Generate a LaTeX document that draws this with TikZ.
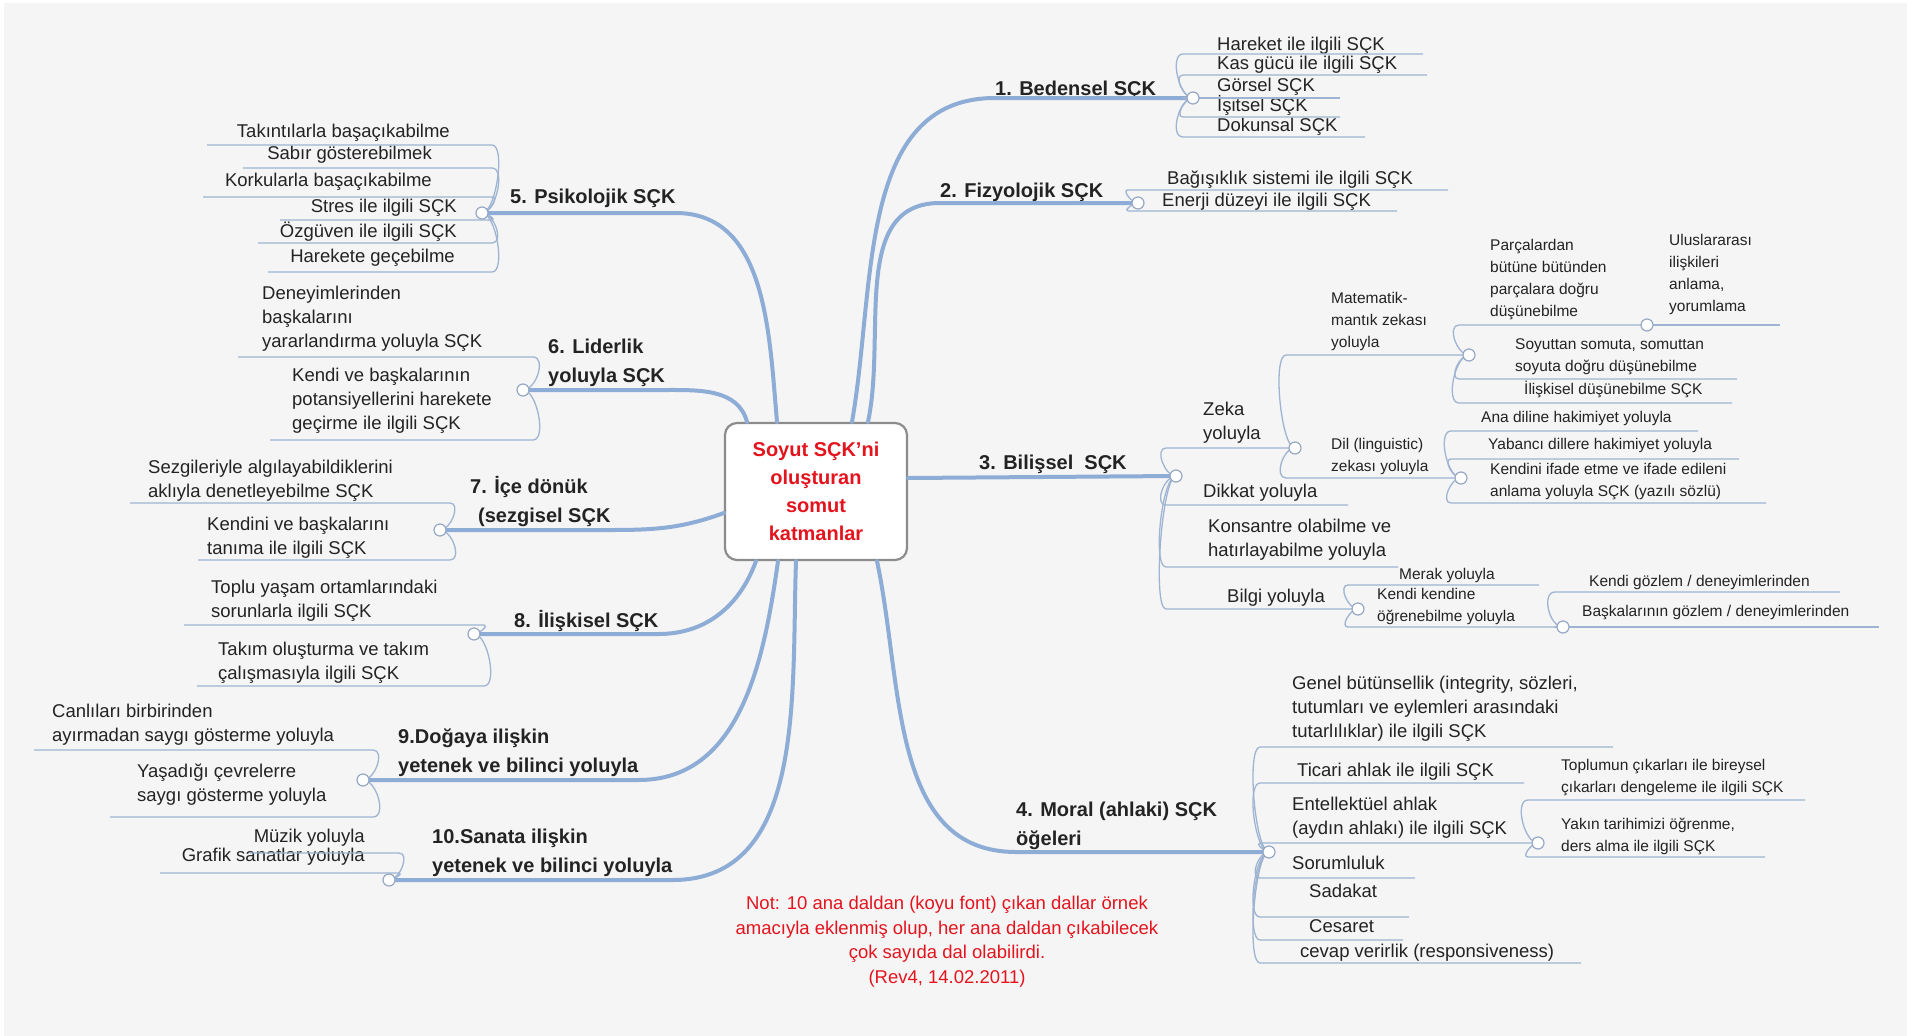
\documentclass[tikz,border=0pt]{standalone}
\usepackage{fontspec}
\setmainfont{Liberation Sans}
\usepackage{tikz}
\usetikzlibrary{positioning,calc}

\definecolor{bgcol}{RGB}{245,245,245}
\definecolor{brcol}{RGB}{141,172,214}
\definecolor{subcol}{RGB}{158,180,210}
\definecolor{dotcol}{RGB}{150,168,196}
\definecolor{hubcol}{RGB}{140,140,140}
\definecolor{txtcol}{RGB}{35,35,35}
\definecolor{notered}{RGB}{228,20,30}

\begin{document}
\begin{tikzpicture}[x=1pt, y=1pt,
  br/.style={draw=brcol, line width=4pt, line cap=round},
  sub/.style={draw=subcol, line width=1.3pt},
  fork r/.style={out=180, in=180, max distance=14pt},
  fork l/.style={out=0, in=0, max distance=14pt},
  dot/.style={circle, draw=dotcol, fill=white, line width=1.2pt, minimum size=12pt, inner sep=0pt},
  hub/.style={draw=hubcol, line width=2.2pt, fill=white, rounded corners=12pt,
    minimum width=182pt, minimum height=137pt, align=center, text=notered,
    font=\fontsize{20}{28}\selectfont\bfseries},
  mainlbl/.style={anchor=south west, inner sep=0pt, align=left, text=txtcol,
    font=\fontsize{20}{29}\selectfont\bfseries, execute at end node=\strut},
  lbl/.style={anchor=south west, inner sep=0pt, align=left, text=txtcol,
    font=\fontsize{18.5}{24}\selectfont, execute at end node=\strut},
  lblr/.style={lbl, anchor=south east, align=right},
  lvl3/.style={font=\fontsize{15.5}{22}\selectfont},
  note/.style={align=center, inner sep=0pt, text=notered, font=\fontsize{18.5}{24.5}\selectfont}]

% background
\useasboundingbox (0,0) rectangle (1907,-1036);
\fill[white] (0,0) rectangle (1907,-1036);
\fill[bgcol] (4,-3) rectangle (1907,-1036);

% centre
\node[hub] (hub) at (816,-491.5) {Soyut SÇK'ni\\oluşturan\\somut\\katmanlar};

% main branch labels
\node[mainlbl] (b1) at (995,-104) {1. Bedensel SÇK};
\node[mainlbl] (b2) at (940,-206) {2. Fizyolojik SÇK};
\node[mainlbl] (b3) at (979,-478) {3. Bilişsel\ \ SÇK};
\node[mainlbl] (b4) at (1016,-854) {4. Moral (ahlaki) SÇK\\öğeleri};
\node[mainlbl] (b5) at (510,-212) {5. Psikolojik SÇK};
\node[mainlbl] (b6) at (548,-391) {6. Liderlik\\yoluyla SÇK};
\node[mainlbl] (b7) at (470,-531) {7. İçe dönük\\\hspace*{8pt}(sezgisel SÇK};
\node[mainlbl] (b8) at (514,-636) {8. İlişkisel SÇK};
\node[mainlbl] (b9) at (398,-781) {9.Doğaya ilişkin\\yetenek ve bilinci yoluyla};
\node[mainlbl] (b10) at (432,-881) {10.Sanata ilişkin\\yetenek ve bilinci yoluyla};

% fork points
\coordinate (c1) at (1193,-98);    \coordinate (s1) at (1183,-98);
\coordinate (c2) at (1138,-203);   \coordinate (s2) at (1128,-203);
\coordinate (c3) at (1176,-476);   \coordinate (s3) at (1166,-476);
\coordinate (c3a) at (1295,-448);  \coordinate (s3a) at (1286,-448);
\coordinate (c3a1) at (1469,-355); \coordinate (s3a1) at (1459,-355);
\coordinate (c3a1a) at (1647,-325);\coordinate (s3a1a) at (1640,-325);
\coordinate (c3a2) at (1461,-478); \coordinate (s3a2) at (1451,-478);
\coordinate (c3d) at (1358,-609);  \coordinate (s3d) at (1348,-609);
\coordinate (c3d2) at (1563,-627); \coordinate (s3d2) at (1555,-627);
\coordinate (c4) at (1269,-852);   \coordinate (s4) at (1260,-852);
\coordinate (c4c) at (1538,-843);  \coordinate (s4c) at (1528,-843);
\coordinate (c5) at (482,-213);    \coordinate (s5) at (492,-213);
\coordinate (c6) at (523,-390);    \coordinate (s6) at (533,-390);
\coordinate (c7) at (440,-530);    \coordinate (s7) at (450,-530);
\coordinate (c8) at (474,-634);    \coordinate (s8) at (484,-634);
\coordinate (c9) at (363,-780);    \coordinate (s9) at (373,-780);
\coordinate (c10) at (389,-880);   \coordinate (s10) at (399,-880);

% main branches
\draw[br] ([xshift=36pt]hub.north) to[out=80,in=180] (c1 -| b1.west) -- (c1);
\draw[br] ([xshift=52pt]hub.north) to[out=78,in=180] (c2 -| b2.west) -- (c2);
\draw[br] ([yshift=13.5pt]hub.east) -- (c3);
\draw[br] ([xshift=61pt]hub.south) to[out=-78,in=180] (c4 -| b4.west) -- (c4);
\draw[br] ([xshift=-39pt]hub.north) to[out=95,in=0] (c5 -| b5.east) -- (c5);
\draw[br] ([xshift=-69pt]hub.north) to[out=105,in=0] (c6 -| b6.east) -- (c6);
\draw[br] ([yshift=-21.5pt]hub.west) to[out=200,in=0] (c7 -| b7.east) -- (c7);
\draw[br] ([xshift=-60pt]hub.south) to[out=250,in=0] (c8 -| b8.east) -- (c8);
\draw[br] ([xshift=-38pt]hub.south) to[out=262,in=0] (c9 -| b9.east) -- (c9);
\draw[br] ([xshift=-20pt]hub.south) to[out=268,in=0] (c10 -| b10.east) -- (c10);

% 1. Bedensel
\node[lbl] (t1a) at (1217,-58) {Hareket ile ilgili SÇK};
\node[lbl] (t1b) at (1217,-77) {Kas gücü ile ilgili SÇK};
\node[lbl] (t1c) at (1217,-99) {Görsel SÇK};
\node[lbl] (t1d) at (1217,-119) {İşitsel SÇK};
\node[lbl] (t1e) at (1217,-139) {Dokunsal SÇK};
\coordinate (e1a) at (1423,-54);
\coordinate (e1b) at (1427,-75);
\coordinate (e1c) at (1340,-98);
\coordinate (e1d) at (1340,-117);
\coordinate (e1e) at (1365,-137);
\draw[sub] (c1) to[fork r] (s1 |- e1a) -- (e1a);
\draw[sub] (c1) to[fork r] (s1 |- e1b) -- (e1b);
\draw[sub] (c1) to[fork r] (s1 |- e1c) -- (e1c);
\draw[sub] (c1) to[fork r] (s1 |- e1d) -- (e1d);
\draw[sub] (c1) to[fork r] (s1 |- e1e) -- (e1e);

% 2. Fizyolojik
\node[lbl] (t2a) at (1167,-192) {Bağışıklık sistemi ile ilgili SÇK};
\node[lbl] (t2b) at (1162,-214) {Enerji düzeyi ile ilgili SÇK};
\coordinate (e2a) at (1448,-190);
\coordinate (e2b) at (1397,-211);
\draw[sub] (c2) to[fork r] (s2 |- e2a) -- (e2a);
\draw[sub] (c2) to[fork r] (s2 |- e2b) -- (e2b);

% 3. Bilissel
\node[lbl] (t3a) at (1203,-447) {Zeka\\yoluyla};
\node[lbl] (t3b) at (1203,-505) {Dikkat yoluyla};
\node[lbl] (t3c) at (1208,-564) {Konsantre olabilme ve\\hatırlayabilme yoluyla};
\node[lbl] (t3d) at (1227,-610) {Bilgi yoluyla};
\coordinate (e3b) at (1348,-505);
\coordinate (e3c) at (1398,-567);
\draw[sub] (c3) to[fork r] (s3 |- c3a) -- (c3a);
\draw[sub] (c3) to[fork r] (s3 |- e3b) -- (e3b);
\draw[sub] (c3) to[fork r] (s3 |- e3c) -- (e3c);
\draw[sub] (c3) to[fork r] (s3 |- c3d) -- (c3d);

% zeka
\node[lbl, lvl3] (t3a1) at (1331,-354) {Matematik-\\mantık zekası\\yoluyla};
\node[lbl, lvl3] (t3a2) at (1331,-478) {Dil (linguistic)\\zekası yoluyla};
\draw[sub] (c3a) to[fork r] (s3a |- c3a1) -- (c3a1);
\draw[sub] (c3a) to[fork r] (s3a |- c3a2) -- (c3a2);

\node[lbl, lvl3] (t3a1a) at (1490,-323) {Parçalardan\\bütüne bütünden\\parçalara doğru\\düşünebilme};
\node[lbl, lvl3] (t3a1b) at (1515,-378) {Soyuttan somuta, somuttan\\soyuta doğru düşünebilme};
\node[lbl, lvl3] (t3a1c) at (1524,-401) {İlişkisel düşünebilme SÇK};
\coordinate (e3a1b) at (1737,-379);
\coordinate (e3a1c) at (1732,-403);
\draw[sub] (c3a1) to[fork r] (s3a1 |- c3a1a) -- (c3a1a);
\draw[sub] (c3a1) to[fork r] (s3a1 |- e3a1b) -- (e3a1b);
\draw[sub] (c3a1) to[fork r] (s3a1 |- e3a1c) -- (e3a1c);

\node[lbl, lvl3] (t3a1a1) at (1669,-318) {Uluslararası\\ilişkileri\\anlama,\\yorumlama};
\coordinate (e3a1a1) at (1780,-325);
\draw[sub] (c3a1a) -- (e3a1a1);

\node[lbl, lvl3] (t3a2a) at (1481,-429) {Ana diline hakimiyet yoluyla};
\node[lbl, lvl3] (t3a2b) at (1488,-456) {Yabancı dillere hakimiyet yoluyla};
\node[lbl, lvl3] (t3a2c) at (1490,-503) {Kendini ifade etme ve ifade edileni\\anlama yoluyla SÇK (yazılı sözlü)};
\coordinate (e3a2a) at (1698,-431);
\coordinate (e3a2b) at (1739,-459);
\coordinate (e3a2c) at (1766,-503);
\draw[sub] (c3a2) to[fork r] (s3a2 |- e3a2a) -- (e3a2a);
\draw[sub] (c3a2) to[fork r] (s3a2 |- e3a2b) -- (e3a2b);
\draw[sub] (c3a2) to[fork r] (s3a2 |- e3a2c) -- (e3a2c);

% bilgi
\node[lbl, lvl3] (t3d1) at (1399,-586) {Merak yoluyla};
\node[lbl, lvl3] (t3d2) at (1377,-628) {Kendi kendine\\öğrenebilme yoluyla};
\coordinate (e3d1) at (1539,-585);
\draw[sub] (c3d) to[fork r] (s3d |- e3d1) -- (e3d1);
\draw[sub] (c3d) to[fork r] (s3d |- c3d2) -- (c3d2);

\node[lbl, lvl3] (t3d2a) at (1589,-593) {Kendi gözlem / deneyimlerinden};
\node[lbl, lvl3] (t3d2b) at (1582,-623) {Başkalarının gözlem / deneyimlerinden};
\coordinate (e3d2a) at (1840,-592);
\coordinate (e3d2b) at (1879,-627);
\draw[sub] (c3d2) to[fork r] (s3d2 |- e3d2a) -- (e3d2a);
\draw[sub] (c3d2) to[fork r] (s3d2 |- e3d2b) -- (e3d2b);

% 4. Moral
\node[lbl] (t4a) at (1292,-745) {Genel bütünsellik (integrity, sözleri,\\tutumları ve eylemleri arasındaki\\tutarlılıklar) ile ilgili SÇK};
\node[lbl] (t4b) at (1297,-784) {Ticari ahlak ile ilgili SÇK};
\node[lbl] (t4c) at (1292,-842) {Entellektüel ahlak\\(aydın ahlakı) ile ilgili SÇK};
\node[lbl] (t4d) at (1292,-877) {Sorumluluk};
\node[lbl] (t4e) at (1309,-905) {Sadakat};
\node[lbl] (t4f) at (1309,-940) {Cesaret};
\node[lbl] (t4g) at (1300,-965) {cevap verirlik (responsiveness)};
\coordinate (e4a) at (1613,-747);
\coordinate (e4b) at (1524,-783);
\coordinate (e4d) at (1415,-878);
\coordinate (e4e) at (1409,-917);
\coordinate (e4f) at (1403,-940);
\coordinate (e4g) at (1581,-963);
\draw[sub] (c4) to[fork r] (s4 |- e4a) -- (e4a);
\draw[sub] (c4) to[fork r] (s4 |- e4b) -- (e4b);
\draw[sub] (c4) to[fork r] (s4 |- c4c) -- (c4c);
\draw[sub] (c4) to[fork r] (s4 |- e4d) -- (e4d);
\draw[sub] (c4) to[fork r] (s4 |- e4e) -- (e4e);
\draw[sub] (c4) to[fork r] (s4 |- e4f) -- (e4f);
\draw[sub] (c4) to[fork r] (s4 |- e4g) -- (e4g);

\node[lbl, lvl3] (t4c1) at (1561,-799) {Toplumun çıkarları ile bireysel\\çıkarları dengeleme ile ilgili SÇK};
\node[lbl, lvl3] (t4c2) at (1561,-858) {Yakın tarihimizi öğrenme,\\ders alma ile ilgili SÇK};
\coordinate (e4c1) at (1805,-800);
\coordinate (e4c2) at (1765,-857);
\draw[sub] (c4c) to[fork r] (s4c |- e4c1) -- (e4c1);
\draw[sub] (c4c) to[fork r] (s4c |- e4c2) -- (e4c2);

% 5. Psikolojik
\node[lblr] (t5a) at (450,-145) {Takıntılarla başaçıkabilme};
\node[lblr] (t5b) at (432,-167) {Sabır gösterebilmek};
\node[lblr] (t5c) at (432,-194) {Korkularla başaçıkabilme};
\node[lblr] (t5d) at (457,-220) {Stres ile ilgili SÇK};
\node[lblr] (t5e) at (457,-245) {Özgüven ile ilgili SÇK};
\node[lblr] (t5f) at (455,-270) {Harekete geçebilme};
\coordinate (e5a) at (207,-145);
\coordinate (e5b) at (243,-168);
\coordinate (e5c) at (203,-197);
\coordinate (e5d) at (280,-220);
\coordinate (e5e) at (258,-243);
\coordinate (e5f) at (268,-272);
\draw[sub] (c5) to[fork l] (s5 |- e5a) -- (e5a);
\draw[sub] (c5) to[fork l] (s5 |- e5b) -- (e5b);
\draw[sub] (c5) to[fork l] (s5 |- e5c) -- (e5c);
\draw[sub] (c5) to[fork l] (s5 |- e5d) -- (e5d);
\draw[sub] (c5) to[fork l] (s5 |- e5e) -- (e5e);
\draw[sub] (c5) to[fork l] (s5 |- e5f) -- (e5f);

% 6. Liderlik
\node[lbl] (t6a) at (262,-355) {Deneyimlerinden\\başkalarını\\yararlandırma yoluyla SÇK};
\node[lbl] (t6b) at (292,-437) {Kendi ve başkalarının\\potansiyellerini harekete\\geçirme ile ilgili SÇK};
\coordinate (e6a) at (238,-357);
\coordinate (e6b) at (270,-440);
\draw[sub] (c6) to[fork l] (s6 |- e6a) -- (e6a);
\draw[sub] (c6) to[fork l] (s6 |- e6b) -- (e6b);

% 7. Ice donuk
\node[lbl] (t7a) at (148,-505) {Sezgileriyle algılayabildiklerini\\aklıyla denetleyebilme SÇK};
\node[lbl] (t7b) at (207,-562) {Kendini ve başkalarını\\tanıma ile ilgili SÇK};
\coordinate (e7a) at (130,-503);
\coordinate (e7b) at (198,-560);
\draw[sub] (c7) to[fork l] (s7 |- e7a) -- (e7a);
\draw[sub] (c7) to[fork l] (s7 |- e7b) -- (e7b);

% 8. Iliskisel
\node[lbl] (t8a) at (211,-625) {Toplu yaşam ortamlarındaki\\sorunlarla ilgili SÇK};
\node[lbl] (t8b) at (218,-687) {Takım oluşturma ve takım\\çalışmasıyla ilgili SÇK};
\coordinate (e8a) at (184,-625);
\coordinate (e8b) at (197,-686);
\draw[sub] (c8) to[fork l] (s8 |- e8a) -- (e8a);
\draw[sub] (c8) to[fork l] (s8 |- e8b) -- (e8b);

% 9. Dogaya
\node[lbl] (t9a) at (52,-749) {Canlıları birbirinden\\ayırmadan saygı gösterme yoluyla};
\node[lbl] (t9b) at (137,-809) {Yaşadığı çevrelerre\\saygı gösterme yoluyla};
\coordinate (e9a) at (34,-750);
\coordinate (e9b) at (110,-817);
\draw[sub] (c9) to[fork l] (s9 |- e9a) -- (e9a);
\draw[sub] (c9) to[fork l] (s9 |- e9b) -- (e9b);

% 10. Sanata
\node[lblr] (t10a) at (365,-850) {Müzik yoluyla};
\node[lblr] (t10b) at (365,-869) {Grafik sanatlar yoluyla};
\coordinate (e10a) at (250,-853);
\coordinate (e10b) at (160,-873);
\draw[sub] (c10) to[fork l] (s10 |- e10a) -- (e10a);
\draw[sub] (c10) to[fork l] (s10 |- e10b) -- (e10b);

% fork dots on top
\node[dot] (d1) at (c1) {};
\node[dot] (d2) at (c2) {};
\node[dot] (d3) at (c3) {};
\node[dot] (d3a) at (c3a) {};
\node[dot] (d3a1) at (c3a1) {};
\node[dot] (d3a1a) at (c3a1a) {};
\node[dot] (d3a2) at (c3a2) {};
\node[dot] (d3d) at (c3d) {};
\node[dot] (d3d2) at (c3d2) {};
\node[dot] (d4) at (c4) {};
\node[dot] (d4c) at (c4c) {};
\node[dot] (d5) at (c5) {};
\node[dot] (d6) at (c6) {};
\node[dot] (d7) at (c7) {};
\node[dot] (d8) at (c8) {};
\node[dot] (d9) at (c9) {};
\node[dot] (d10) at (c10) {};

% note
\node[note, anchor=north] (nt) at (947,-896) {Not: 10 ana daldan (koyu font) çıkan dallar örnek\\amacıyla eklenmiş olup, her ana daldan çıkabilecek\\çok sayıda dal olabilirdi.\\(Rev4, 14.02.2011)};
\end{tikzpicture}
\end{document}
